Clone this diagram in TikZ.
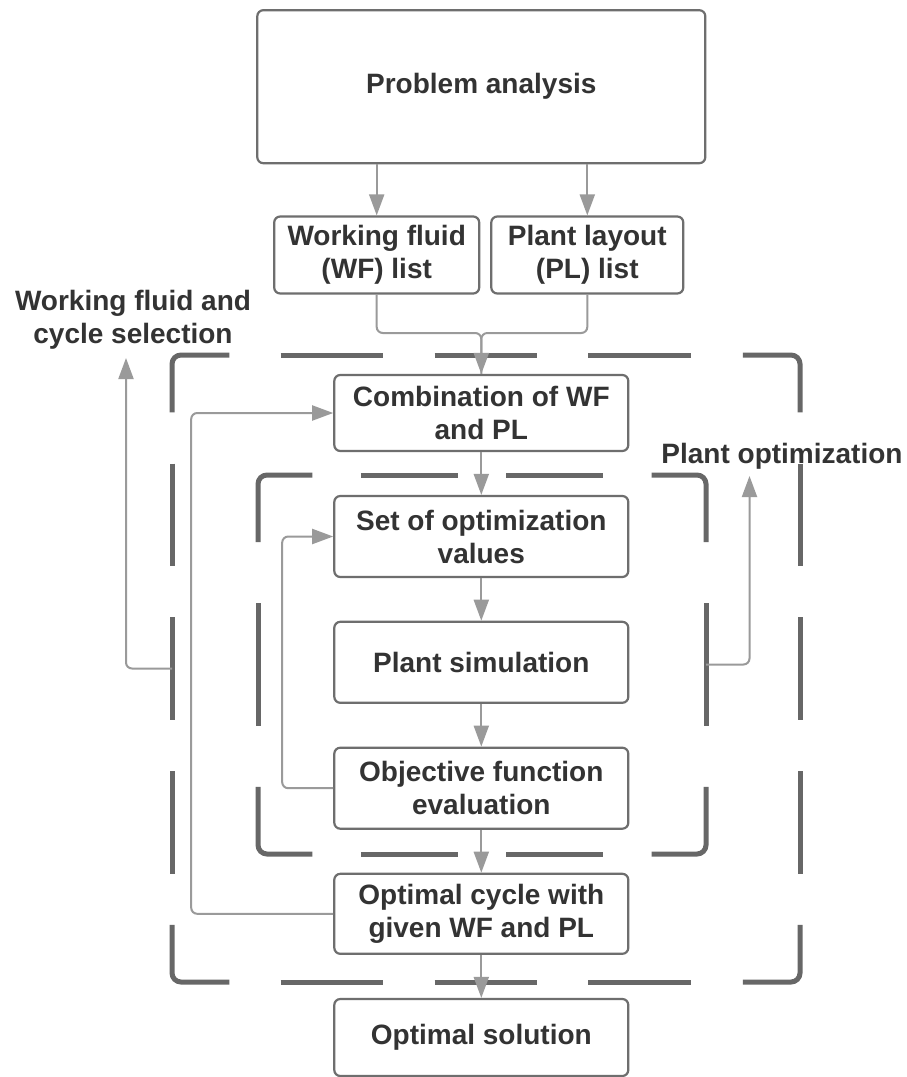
\documentclass[tikz,border=0pt]{standalone}
\usepackage{fontspec}
\setmainfont{Liberation Sans}
\usetikzlibrary{arrows.meta}
\definecolor{txt}{HTML}{333333}
\definecolor{boxc}{HTML}{6E6E6E}
\definecolor{dashc}{HTML}{676767}
\definecolor{arrc}{HTML}{9A9A9A}
\begin{document}
\begin{tikzpicture}[x=1pt, y=-1pt,
  lbl/.style={font=\fontsize{28}{33}\selectfont\bfseries, text=txt, align=center, inner sep=0pt},
  box/.style={lbl, draw=boxc, line width=2.2pt, rounded corners=6pt, minimum width=294pt},
  conn/.style={draw=arrc, line width=2pt, rounded corners=6pt},
  arr/.style={conn, -{Triangle[length=21pt,width=15pt]}},
  dsh/.style={draw=dashc, line width=5pt},
  dshc/.style={dsh, rounded corners=9pt}]
\useasboundingbox[fill=white] (0,0) rectangle (906,1077);

% outer dashed frame
\draw[dshc] (172,412.25) -- (172,355) -- (229.25,355);
\draw[dshc] (742.75,355) -- (800,355) -- (800,412.25);
\draw[dshc] (172,924.75) -- (172,982) -- (229.25,982);
\draw[dshc] (742.75,982) -- (800,982) -- (800,924.75);
\foreach \a/\b in {280.6/383.2, 434.5/537.1, 588.4/691.0} {
  \draw[dsh] (\a,355) -- (\b,355);
  \draw[dsh] (\a,982) -- (\b,982);
}
\foreach \a/\b in {463.5/566, 617.25/719.75, 771/873.5} {
  \draw[dsh] (172,\a) -- (172,\b);
  \draw[dsh] (800,\a) -- (800,\b);
}

% inner dashed frame
\draw[dshc] (258,542.2) -- (258,475) -- (312.4,475);
\draw[dshc] (651.6,475) -- (706,475) -- (706,542.2);
\draw[dshc] (258,786.8) -- (258,854) -- (312.4,854);
\draw[dshc] (651.6,854) -- (706,854) -- (706,786.8);
\foreach \a/\b in {360.8/457.7, 506.1/603.0} {
  \draw[dsh] (\a,475) -- (\b,475);
  \draw[dsh] (\a,854) -- (\b,854);
}
\draw[dsh] (258,603.4) -- (258,725.7);
\draw[dsh] (706,603.4) -- (706,725.7);

% boxes
\node[box, minimum width=448pt, minimum height=153pt] (prob) at (481.3,86.7) {Problem analysis};
\node[box, minimum width=205pt, minimum height=77pt] (wf) at (376.7,255) {Working fluid\\(WF) list};
\node[box, minimum width=192pt, minimum height=77pt] (pl) at (587.3,255) {Plant layout\\(PL) list};
\node[box, minimum height=76pt] (comb) at (481.3,413) {Combination of WF\\and PL};
\node[box, minimum height=81pt] (set) at (481.3,536.5) {Set of optimization\\values};
\node[box, minimum height=81pt] (sim) at (481.3,662.3) {Plant simulation};
\node[box, minimum height=81pt] (obj) at (481.3,788.2) {Objective function\\evaluation};
\node[box, minimum height=80pt] (cyc) at (481.3,913.8) {Optimal cycle with\\given WF and PL};
\node[box, minimum height=77pt] (sol) at (481.3,1037.5) {Optimal solution};

% labels
\node[lbl] (lsel) at (133,320) {Working fluid and\\cycle selection};
\node[lbl] (lopt) at (782,456) {Plant optimization};

% coordinates
\coordinate (innerE) at (706,664.5);
\coordinate (outerW) at (172,668.5);
\coordinate (ptip) at (749.5,476);
\coordinate (ltip) at (126,358);
\coordinate (m) at (481.3,333);

% connectors
\draw[arr] (prob.south -| wf.north) -- (wf.north);
\draw[arr] (prob.south -| pl.north) -- (pl.north);
\draw[conn] (pl.south) |- (m) -- (comb.north);
\draw[arr] (wf.south) |- (m) -- (comb.north);
\draw[arr] (comb.south) -- (set.north);
\draw[arr] (set.south) -- (sim.north);
\draw[arr] (sim.south) -- (obj.north);
\draw[arr] (obj.south) -- (cyc.north);
\draw[arr] (cyc.south) -- (sol.north);
\draw[arr] (obj.west) -- ++(-51,0) |- (set.west);
\draw[arr] (cyc.west) -- ++(-142,0) |- (comb.west);
\draw[arr] (innerE) -| (ptip);
\draw[arr] (outerW) -| (ltip);
\end{tikzpicture}
\end{document}
